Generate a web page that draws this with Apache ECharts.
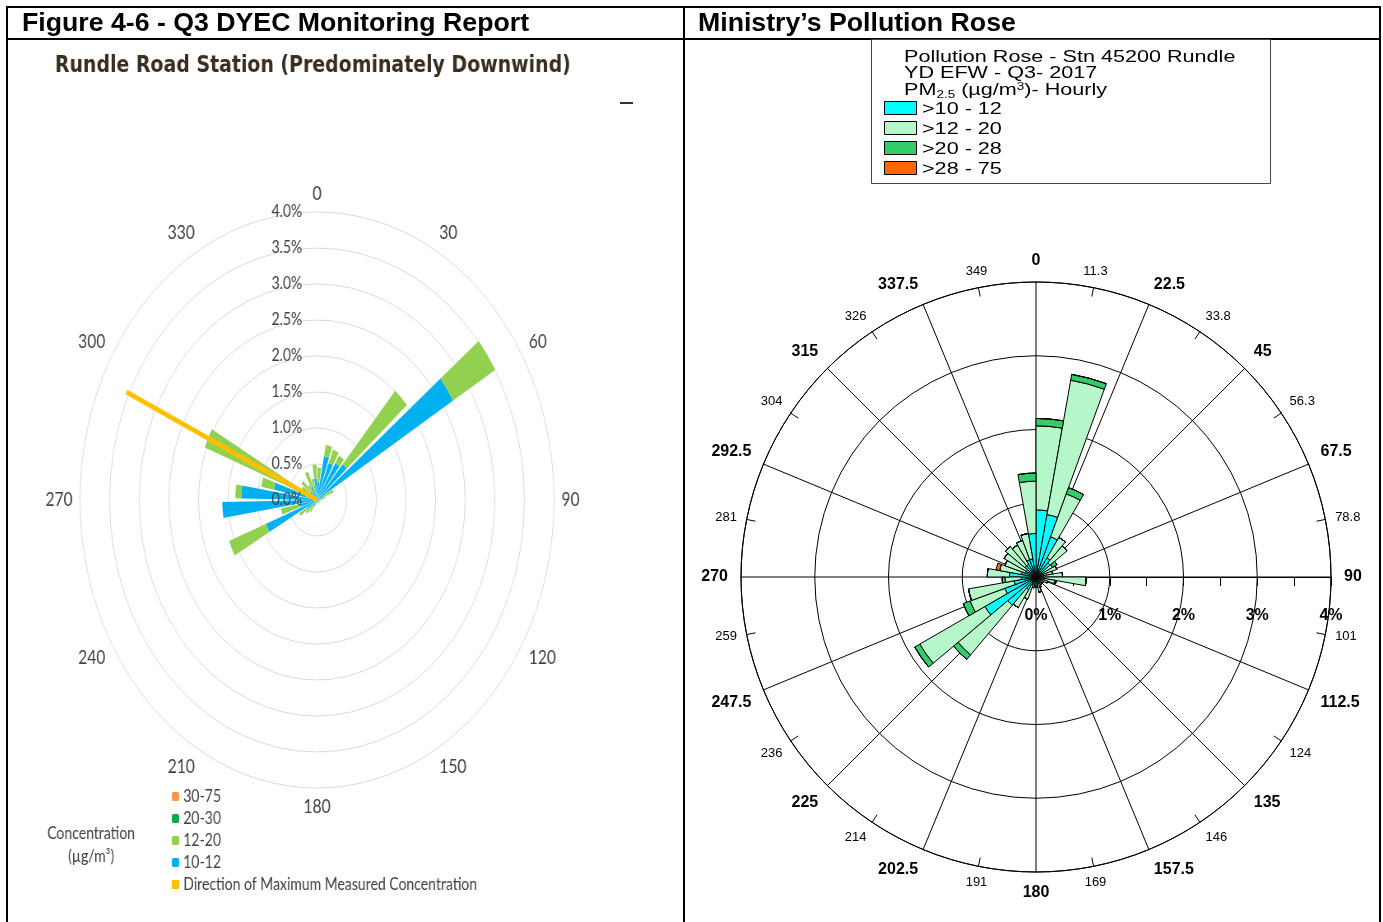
<!DOCTYPE html>
<html><head><meta charset="utf-8">
<script src="https://cdn.jsdelivr.net/npm/echarts@6/dist/echarts.min.js"></script>
<style>
html,body{margin:0;padding:0;background:#fff;overflow:hidden;}
#main{position:absolute;left:0;top:0;width:1383px;height:922px;}
#left{position:absolute;left:8px;top:42px;width:821px;height:878px;transform:scaleX(0.823);transform-origin:0 0;}
</style></head><body>
<div id="main"></div><div id="left"></div>
<script>
// ---------- DATA ----------
const dirBins = ['0-10','10-20','20-30','30-40','40-50','50-60','60-70','70-80','80-90',
  '90-100','100-110','110-120','120-130','130-140','140-150','150-160','160-170','170-180',
  '180-190','190-200','200-210','210-220','220-230','230-240','240-250','250-260','260-270',
  '270-280','280-290','290-300','300-310','310-320','320-330','330-340','340-350','350-360'];

// Left (DYEC) chart, % frequency per 10-degree bin
const leftNames = ['10-12','12-20','20-30','30-75'];
const left10_12 = [0.25,0.62,0.55,0.60,0.66,2.68,0.12,0.05,0.05,0.03,0.03,0.03,0.03,0.03,0.03,0.03,0.03,0.03,
                   0.03,0.03,0.05,0.10,0.10,0.20,0.92,0.30,1.60,1.28,0.74,0.25,0.10,0.15,0.10,0.20,0.10,0.30];
const left12_20 = [0.20,0.16,0.20,0.12,1.35,0.83,0.18,0.10,0.05,0.03,0.03,0.02,0.02,0.02,0.02,0.02,0.02,0.02,
                   0.02,0.02,0.05,0.10,0.15,0.15,0.67,0.32,0.00,0.10,0.22,1.78,0.20,0.20,0.15,0.22,0.20,0.19];
const left20_30 = [0,0,0,0,0,0,0,0,0,0,0,0,0,0,0,0,0,0,0,0,0,0,0,0,0,0,0,0,0,0,0,0,0,0,0,0];
const left30_75 = [0,0,0,0,0,0,0,0,0,0,0,0,0,0,0,0,0,0,0,0,0,0,0,0,0,0,0,0,0,0,0,0,0,0,0,0];
const maxDirName = 'Direction of Maximum Measured Concentration';
const maxDirBin = '290-300';
const maxDirLength = 3.55;
const leftAngleLabels = ['0','30','60','90','120','150','180','210','240','270','300','330'];

// Right (Ministry) chart, % frequency per 10-degree bin
const rightNames = ['>10 - 12','>12 - 20','>20 - 28','>28 - 75'];
const right10_12 = [0.91,0.86,0.58,0.30,0.25,0.12,0.10,0.08,0.10,0.12,0.06,0.05,0.04,0.04,0.04,0.05,0.05,0.04,
                    0.04,0.05,0.12,0.20,0.50,0.80,0.45,0.30,0.20,0.36,0.20,0.15,0.15,0.20,0.20,0.25,0.25,0.59];
const right12_20 = [1.14,1.85,0.62,0.32,0.30,0.14,0.20,0.15,0.26,0.56,0.20,0.12,0.08,0.06,0.08,0.10,0.16,0.10,
                    0.08,0.10,0.20,0.28,0.88,1.02,0.50,0.63,0.22,0.30,0.30,0.30,0.35,0.34,0.30,0.28,0.35,0.71];
const right20_28 = [0.10,0.08,0.09,0,0,0.07,0,0,0,0,0.02,0,0,0,0,0,0,0,
                    0,0,0,0,0.08,0.08,0.10,0,0.04,0,0,0,0,0,0,0,0,0.11];
const right28_75 = [0,0,0,0,0,0,0,0,0,0,0,0,0,0,0,0,0,0,
                    0.02,0,0,0,0,0,0,0,0,0,0.05,0,0,0,0,0,0,0];
const majorDirLabels = ['0','22.5','45','67.5','90','112.5','135','157.5','180','202.5','225','247.5',
                        '270','292.5','315','337.5'];
const minorDirLabels = ['11.3','33.8','56.3','78.8','101','124','146','169','191','214','236','259',
                        '281','304','326','349'];

// ---------- RIGHT / PAGE ----------
const rightColors = ['#00ffff','#b5f7c9','#33cc66','#ff6600'];
const rightData = [right10_12, right12_20, right20_28, right28_75];
const RC = [1036, 577], RR = 295;
const FONT = 'Liberation Sans, Arial, sans-serif';

const graphics = [];
function ln(x1,y1,x2,y2,w,c){graphics.push({type:'line',shape:{x1,y1,x2,y2},style:{stroke:c||'#000',lineWidth:w||2},z:10});}
ln(6,7,1381,7); ln(7,6,7,922); ln(1380,6,1380,922); ln(684,7,684,922); ln(7,39,1380,39);
ln(620,103,633,103,2,'#333');
graphics.push({type:'text',x:22,y:24,z:10,style:{text:'Figure 4-6 - Q3 DYEC Monitoring Report',font:'bold 26.7px '+FONT,fill:'#000',textVerticalAlign:'middle'}});
graphics.push({type:'text',x:698,y:24,z:10,style:{text:'Ministry\u2019s Pollution Rose',font:'bold 26.7px '+FONT,fill:'#000',textVerticalAlign:'middle'}});
graphics.push({type:'rect',shape:{x:871.5,y:39.5,width:399,height:144},style:{fill:'none',stroke:'#444',lineWidth:1},z:10});
const SX = 1.35;
graphics.push({type:'text',x:904,y:58,scaleX:SX,z:10,style:{text:'Pollution Rose - Stn 45200 Rundle',font:'16px '+FONT,fill:'#000',textVerticalAlign:'middle'}});
graphics.push({type:'text',x:904,y:74,scaleX:SX,z:10,style:{text:'YD EFW - Q3- 2017',font:'16px '+FONT,fill:'#000',textVerticalAlign:'middle'}});
graphics.push({type:'text',x:904,y:91,scaleX:SX,z:10,style:{
  text:'{a|PM}{b|2.5}{a| (\u00b5g/m}{c|3}{a|)- Hourly}',textVerticalAlign:'middle',
  rich:{a:{fontSize:16,fontFamily:FONT,color:'#000',lineHeight:18},
        b:{fontSize:10,fontFamily:FONT,color:'#000',verticalAlign:'bottom',lineHeight:18,padding:[8,0,0,0]},
        c:{fontSize:10,fontFamily:FONT,color:'#000',verticalAlign:'top',lineHeight:18,padding:[0,0,6,0]}}}});
rightNames.forEach((n,i)=>{
  const cy = 108 + i*20;
  graphics.push({type:'rect',shape:{x:884.5,y:cy-6.5,width:32,height:13},style:{fill:rightColors[i],stroke:'#000',lineWidth:1},z:10});
  graphics.push({type:'text',x:922,y:cy+2,scaleX:SX,z:10,style:{text:n,font:'16px '+FONT,fill:'#000',textVerticalAlign:'middle'}});
});

const mainChart = echarts.init(document.getElementById('main'));
mainChart.setOption({
  animation:false,
  backgroundColor:'#fff',
  polar:[{center:RC,radius:RR},{center:RC,radius:RR},{center:RC,radius:RR}],
  angleAxis:[
    {polarIndex:0,type:'value',min:0,max:360,interval:22.5,startAngle:0,clockwise:true,
     axisLine:{show:true,lineStyle:{color:'#000',width:1}},axisTick:{show:false},
     splitLine:{show:true,lineStyle:{color:'#000',width:1}},
     axisLabel:{margin:13,fontSize:16,fontWeight:'bold',color:'#000',fontFamily:FONT,
       formatter:v=>{if(v>=360)return '';const b=(v+90)%360;return majorDirLabels[Math.round(b/22.5)];}}},
    {polarIndex:1,type:'value',min:0,max:360,interval:22.5,startAngle:78.75,clockwise:true,
     axisLine:{show:false},axisTick:{show:true,inside:true,length:9,lineStyle:{color:'#000'}},splitLine:{show:false},
     axisLabel:{margin:10,fontSize:13,color:'#000',fontFamily:FONT,
       formatter:v=>v>=360?'':minorDirLabels[Math.round(v/22.5)]}},
    {polarIndex:2,type:'category',data:dirBins,startAngle:90,clockwise:true,
     axisLine:{show:false},axisTick:{show:false},axisLabel:{show:false},splitLine:{show:false}}
  ],
  radiusAxis:[
    {polarIndex:0,type:'value',min:0,max:4,interval:1,
     axisLine:{show:true,lineStyle:{color:'#000'}},
     axisTick:{show:true,length:-9,lineStyle:{color:'#000'}},
     minorTick:{show:true,splitNumber:2,length:-9,lineStyle:{color:'#000'}},
     splitLine:{show:true,lineStyle:{color:'#000',width:1}},
     axisLabel:{margin:-39,verticalAlign:'middle',fontSize:16,fontWeight:'bold',color:'#000',fontFamily:FONT,formatter:'{value}%'}},
    {polarIndex:1,type:'value',min:0,max:4,axisLine:{show:false},axisTick:{show:false},axisLabel:{show:false},splitLine:{show:false}},
    {polarIndex:2,type:'value',min:0,max:4,axisLine:{show:false},axisTick:{show:false},axisLabel:{show:false},splitLine:{show:false}}
  ],
  graphic:graphics,
  series:rightNames.map((n,i)=>({
    type:'bar',name:n,coordinateSystem:'polar',polarIndex:2,stack:'ministry',data:rightData[i],
    barCategoryGap:'0%',silent:true,
    itemStyle:{color:rightColors[i],borderColor:'#000',borderWidth:1}
  }))
});

// ---------- LEFT ----------
const leftColors = ['#00b0f0','#92d050','#00b050','#f79646'];
const leftData = [left10_12,left12_20,left20_30,left30_75];
const LC = [375.5, 458], LR = 288;
const LFONT = 'Lato, Liberation Sans, sans-serif';
const leftSeries = leftNames.map((n,i)=>({
  type:'bar',name:n,coordinateSystem:'polar',polarIndex:1,stack:'dyec',data:leftData[i],
  barCategoryGap:'20%',silent:true,itemStyle:{color:leftColors[i]}
}));
leftSeries.push({type:'line',name:maxDirName,coordinateSystem:'polar',polarIndex:1,
  data:[[0,maxDirBin],[maxDirLength,maxDirBin]],symbol:'none',silent:true,
  lineStyle:{color:'#ffc000',width:5,cap:'butt'},itemStyle:{color:'#ffc000'},z:5});

const leftChart = echarts.init(document.getElementById('left'));
leftChart.setOption({
  animation:false,
  polar:[{center:LC,radius:LR},{center:LC,radius:LR},{center:LC,radius:LR}],
  angleAxis:[
    {polarIndex:0,type:'value',min:0,max:360,interval:30,startAngle:90,clockwise:true,
     axisLine:{show:false},axisTick:{show:false},splitLine:{show:false},
     axisLabel:{margin:9,fontSize:19,color:'#404040',fontFamily:LFONT,
       formatter:v=>v>=360?'':leftAngleLabels[Math.round(v/30)]}},
    {polarIndex:1,type:'category',data:dirBins,startAngle:90,clockwise:true,
     axisLine:{show:false},axisTick:{show:false},axisLabel:{show:false},splitLine:{show:false}},
    {polarIndex:2,type:'value',min:0,max:360,interval:30,startAngle:90,clockwise:true,
     axisLine:{show:false},axisTick:{show:false},axisLabel:{show:false},splitLine:{show:false}}
  ],
  radiusAxis:[
    {polarIndex:0,type:'value',min:0,max:4,interval:0.5,
     axisLine:{show:false},axisTick:{show:false},
     splitLine:{show:true,lineStyle:{color:'#d9d9d9',width:1}},axisLabel:{show:false}},
    {polarIndex:1,type:'value',min:0,max:4,axisLine:{show:false},axisTick:{show:false},axisLabel:{show:false},splitLine:{show:false}},
    {polarIndex:2,type:'value',min:0,max:4,interval:0.5,z:20,
     axisLine:{show:false},axisTick:{show:false},splitLine:{show:false},
     axisLabel:{margin:18,fontSize:17,color:'#404040',fontFamily:LFONT,formatter:v=>v.toFixed(1)+'%'}}
  ],
  legend:{
    orient:'vertical',left:199,top:745,itemWidth:9,itemHeight:9,itemGap:3,padding:0,
    textStyle:{fontSize:17,color:'#404040',fontFamily:LFONT,lineHeight:19},
    data:['30-75','20-30','12-20','10-12',{name:maxDirName,icon:'rect'}],
    selectedMode:false
  },
  graphic:[
    {type:'text',x:57,y:24,style:{text:'Rundle Road Station (Predominately Downwind)',font:'bold 23px DejaVu Sans, sans-serif',fill:'#3a2e22',textVerticalAlign:'middle'}},
    {type:'text',x:101,y:792,style:{text:'Concentration',font:'17px '+LFONT,fill:'#404040',textAlign:'center',textVerticalAlign:'middle'}},
    {type:'text',x:101,y:815,style:{text:'(\u00b5g/m\u00b3)',font:'17px '+LFONT,fill:'#404040',textAlign:'center',textVerticalAlign:'middle'}}
  ],
  series:leftSeries
});
</script>
</body></html>
